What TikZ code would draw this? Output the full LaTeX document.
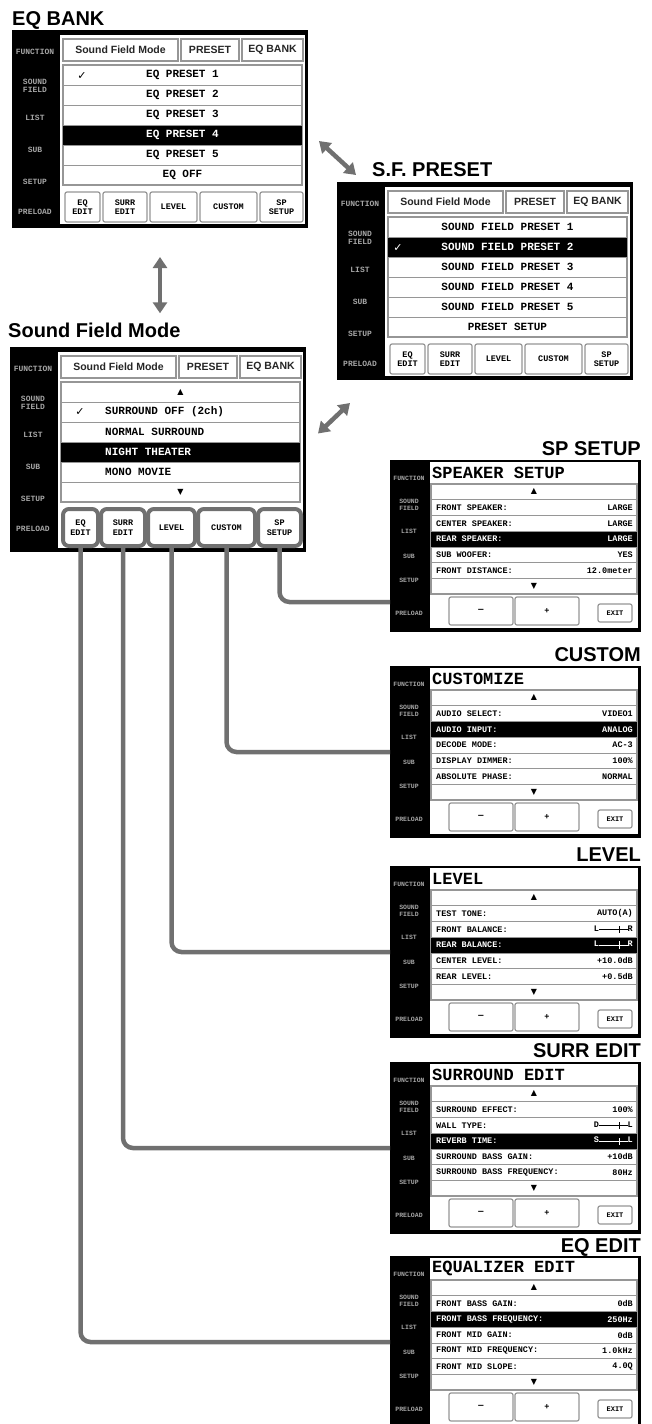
\documentclass[tikz,border=0pt]{standalone}
\usepackage{fontspec}
\setmainfont{Liberation Sans}
\newfontfamily\lcdfont{Liberation Mono}
\newfontfamily\symfont{DejaVu Sans}
\usetikzlibrary{arrows.meta, positioning, calc}

\definecolor{linkgray}{RGB}{112,112,112}
\definecolor{sidegray}{RGB}{165,165,165}
\definecolor{framegray}{RGB}{150,150,150}

\tikzset{
  screenbox/.style={fill=black, inner sep=0pt, outer sep=0pt, anchor=north west},
  pagetitle/.style={font=\bfseries\fontsize{20}{22}\selectfont, inner sep=0pt},
  sidelabel/.style={text=sidegray, font=\lcdfont\bfseries\fontsize{8}{8.5}\selectfont, align=center, inner sep=0pt},
  smallside/.style={sidelabel, font=\lcdfont\bfseries\fontsize{6.5}{7}\selectfont},
  tabtext/.style={font=\bfseries\fontsize{10.5}{11}\selectfont, text=black!85, inner sep=0pt},
  tabline/.style={draw=framegray, fill=white, line width=1.2pt},
  rowline/.style={draw=framegray, line width=.6pt},
  listframe/.style={draw=framegray, line width=1.2pt},
  rowfont/.style={font=\lcdfont\bfseries\fontsize{11}{11}\selectfont, inner sep=0pt},
  smallrow/.style={font=\lcdfont\bfseries\fontsize{8.5}{9}\selectfont, inner sep=0pt},
  headtext/.style={font=\lcdfont\bfseries\fontsize{17}{17}\selectfont, inner sep=0pt},
  softkey/.style={draw=framegray, fill=white, line width=1.2pt, rounded corners=2pt, inner sep=0pt,
    align=center, font=\lcdfont\bfseries\fontsize{8.5}{9.5}\selectfont},
  keyring/.style={draw=linkgray, line width=4pt, rounded corners=6pt},
  checkglyph/.style={font=\symfont\fontsize{11}{11}\selectfont, inner sep=0pt},
  scrollmark/.style={font=\symfont\fontsize{8}{8}\selectfont, inner sep=0pt},
  feedline/.style={draw=linkgray, line width=4.5pt, rounded corners=10pt},
  pagearrow/.style={draw=linkgray, line width=4.5pt,
    {Triangle[length=11pt,width=14pt]}-{Triangle[length=11pt,width=14pt]}},
}

% slider value: left end, right end
\newcommand{\slider}[2]{#1\rule[.3ex]{20pt}{.7pt}\rule[-.4ex]{.8pt}{1.6ex}\rule[.3ex]{8pt}{.7pt}#2}

% tab page screen: name, x, y, height, extra key style
\newcommand{\bigscreen}[5]{%
  \node[screenbox, minimum width=296pt, minimum height=#4pt] (#1) at (#2,#3) {};
  \begin{scope}[shift={(#2,#3)}]
    \fill[white] (48,5) rectangle (293,#4-4);
    \foreach \ty/\txt in {22/FUNCTION, 56/{SOUND\\FIELD}, 88/LIST, 120/SUB, 152/SETUP, 182/PRELOAD}
      \node[sidelabel] at (23,\ty) {\txt};
    \foreach \xa/\xb/\txt in {51/166/Sound Field Mode, 169/227/PRESET, 230/291/EQ BANK} {
      \draw[tabline] (\xa,9) rectangle (\xb,31);
      \node[tabtext] at ({(\xa+\xb)/2},20) {\txt};
    }
    \draw[listframe, fill=white] (51,35) rectangle (290,155);
    \foreach \xa/\xb/\txt [count=\keyno] in {53/88/{EQ\\EDIT}, 91/135/{SURR\\EDIT}, 138/185/LEVEL, 188/245/CUSTOM, 248/291/{SP\\SETUP}}
      \node[softkey, #5, minimum width={(\xb-\xa)*1pt}, minimum height={(#4-168)*1pt}]
        (#1key\keyno) at ({(\xa+\xb)/2},{(156+#4)/2}) {\txt};
  \end{scope}}

% list of a tab page: x, y, row height, dark row, text x, text anchor, rows
\newcommand{\listrows}[7]{%
  \begin{scope}[shift={(#1,#2)}]
    \foreach \txt [count=\rw] in {#7} {
      \ifnum\rw=#4 \fill[black] (51,{35+(\rw-1)*#3}) rectangle (290,{35+\rw*#3}); \def\ink{white}\else\def\ink{black}\fi
      \ifnum\rw>1 \draw[rowline] (51,{35+(\rw-1)*#3}) -- (290,{35+(\rw-1)*#3});\fi
      \node[rowfont, text=\ink, anchor=#6] at (#5,{35+(\rw-.5)*#3}) {\txt};
    }
  \end{scope}}

% edit screen: name, y, header, dark row, rows
\newcommand{\editscreen}[5]{%
  \node[screenbox, minimum width=251pt, minimum height=172pt] (#1) at (390,#2) {};
  \begin{scope}[shift={(390,#2)}]
    \fill[white] (40,2) rectangle (248,168);
    \foreach \ty/\txt in {18/FUNCTION, 45/{SOUND\\FIELD}, 71/LIST, 96/SUB, 120/SETUP, 153/PRELOAD}
      \node[smallside] at (19,\ty) {\txt};
    \node[headtext, anchor=west] at (42,12.5) {#3};
    \draw[listframe] (41,24) rectangle (247,134);
    \foreach \lab/\val [count=\rw] in {#5} {
      \ifnum\rw=#4 \fill[black] (41,{24+\rw*15.7}) rectangle (247,{39.7+\rw*15.7}); \def\ink{white}\else\def\ink{black}\fi
      \node[smallrow, text=\ink, anchor=west] at (46,{31.85+\rw*15.7}) {\lab};
      \node[smallrow, text=\ink, anchor=east] at (243,{31.85+\rw*15.7}) {\val};
    }
    \foreach \rw in {1,...,6}
      \draw[rowline] (41,{24+\rw*15.7}) -- (247,{24+\rw*15.7});
    \node[scrollmark] at (144,31.85) {▲};
    \node[scrollmark] at (144,126.15) {▼};
    \node[softkey, minimum width=64pt, minimum height=28pt] at (91,151) {{\symfont −}};
    \node[softkey, minimum width=64pt, minimum height=28pt] at (157,151) {+};
    \node[softkey, minimum width=34pt, minimum height=18pt, font=\lcdfont\bfseries\fontsize{7}{7}\selectfont] at (225,153) {EXIT};
  \end{scope}}

\begin{document}
\begin{tikzpicture}[x=1pt, y=-1pt]
  \useasboundingbox (0,0) rectangle (651,1424);

  % titles
  \node[pagetitle, anchor=base west] (eqbanktitle) at (12,25) {EQ BANK};
  \node[pagetitle, anchor=base west] (sfpresettitle) at (372,176) {S.F. PRESET};
  \node[pagetitle, anchor=base west] (sfmtitle) at (8,337) {Sound Field Mode};
  \node[pagetitle, anchor=base east] (spsetuptitle) at (641,455) {SP SETUP};
  \node[pagetitle, anchor=base east] (customtitle) at (641,661) {CUSTOM};
  \node[pagetitle, anchor=base east] (leveltitle) at (641,861) {LEVEL};
  \node[pagetitle, anchor=base east] (surrtitle) at (641,1057) {SURR EDIT};
  \node[pagetitle, anchor=base east] (eqedittitle) at (641,1252) {EQ EDIT};

  % tab pages
  \bigscreen{eqbank}{12}{30}{198}{}
  \listrows{12}{30}{20}{4}{170.5}{center}{EQ PRESET 1, EQ PRESET 2, EQ PRESET 3, EQ PRESET 4, EQ PRESET 5, EQ OFF}
  \node[checkglyph] (eqcheck) at (82,76) {✓};

  \bigscreen{sfpreset}{337}{182}{198}{}
  \listrows{337}{182}{20}{2}{170.5}{center}{SOUND FIELD PRESET 1, SOUND FIELD PRESET 2, SOUND FIELD PRESET 3, SOUND FIELD PRESET 4, SOUND FIELD PRESET 5, PRESET SETUP}
  \node[checkglyph, text=white] (sfcheck) at (398,248) {✓};

  \bigscreen{sfm}{10}{347}{205}{keyring}
  \listrows{10}{347}{20}{4}{95}{west}{\relax, SURROUND OFF (2ch), NORMAL SURROUND, NIGHT THEATER, MONO MOVIE, \relax}
  \node[checkglyph] (sfmcheck) at (80,412) {✓};
  \node[scrollmark] (sfmup) at (180.5,392) {▲};
  \node[scrollmark] (sfmdown) at (180.5,492) {▼};

  % edit screens
  \editscreen{spsetup}{460}{SPEAKER SETUP}{3}{FRONT SPEAKER:/LARGE, CENTER SPEAKER:/LARGE, REAR SPEAKER:/LARGE, SUB WOOFER:/YES, FRONT DISTANCE:/12.0meter}
  \editscreen{custom}{666}{CUSTOMIZE}{2}{AUDIO SELECT:/VIDEO1, AUDIO INPUT:/ANALOG, DECODE MODE:/AC-3, DISPLAY DIMMER:/100\%, ABSOLUTE PHASE:/NORMAL}
  \editscreen{levelpage}{866}{LEVEL}{3}{TEST TONE:/AUTO(A), FRONT BALANCE:/\slider{L}{R}, REAR BALANCE:/\slider{L}{R}, CENTER LEVEL:/+10.0dB, REAR LEVEL:/+0.5dB}
  \editscreen{surredit}{1062}{SURROUND EDIT}{3}{SURROUND EFFECT:/100\%, WALL TYPE:/\slider{D}{L}, REVERB TIME:/\slider{S}{L}, SURROUND BASS GAIN:/+10dB, SURROUND BASS FREQUENCY:/80Hz}
  \editscreen{eqedit}{1256}{EQUALIZER EDIT}{2}{FRONT BASS GAIN:/0dB, FRONT BASS FREQUENCY:/250Hz, FRONT MID GAIN:/0dB, FRONT MID FREQUENCY:/1.0kHz, FRONT MID SLOPE:/4.0Q}

  % page changes
  \draw[pagearrow] ([shift={(11pt,-12pt)}]eqbank.east) -- ([shift={(19pt,7pt)}]sfpreset.north west);
  \draw[pagearrow, shorten <=29pt, shorten >=9pt] (eqbank.south) -- (eqbank.south |- sfmtitle.north);
  \draw[pagearrow] ([shift={(12pt,16pt)}]sfm.east) -- ([shift={(13pt,-23pt)}]sfpreset.south west);

  % key to screen
  \coordinate (spsetupin) at ($(spsetup.south west)+(0,-30)$);
  \draw[feedline] (sfmkey5.south) |- (spsetupin);
  \draw[feedline] (sfmkey4.south) |- (custom.west);
  \draw[feedline] (sfmkey3.south) |- (levelpage.west);
  \draw[feedline] (sfmkey2.south) |- (surredit.west);
  \draw[feedline] (sfmkey1.south) |- (eqedit.west);
\end{tikzpicture}
\end{document}
